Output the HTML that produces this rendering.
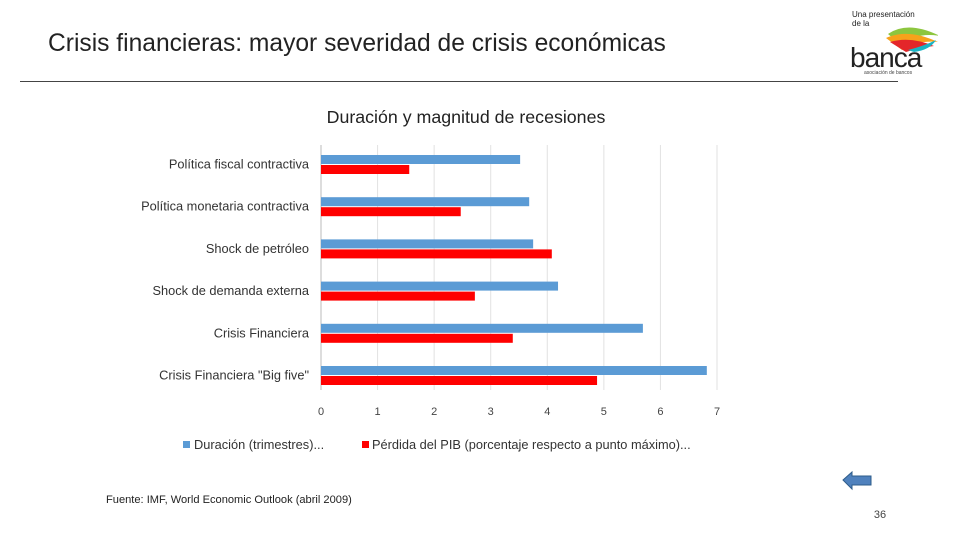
<!DOCTYPE html>
<html><head><meta charset="utf-8"><style>
body{margin:0;width:960px;height:540px;background:#fff;position:relative;overflow:hidden;font-family:"Liberation Sans",sans-serif}
.t{position:absolute;white-space:nowrap}
</style></head><body>
<div class="t" style="left:48px;top:30px;font-size:24.6px;color:#222">Crisis financieras: mayor severidad de crisis económicas</div>
<div style="position:absolute;left:20px;top:81px;width:878px;height:1px;background:#444"></div>
<div style="position:absolute;left:848px;top:6px;width:90px;height:72px">
 <div class="t" style="left:4px;top:4px;font-size:8px;line-height:9px;color:#222">Una presentación<br>de la</div>
 <svg width="90" height="72" style="position:absolute;left:0;top:0">
  <path d="M40 28 Q60 14 92 30 Q70 26 52 38 Z" fill="#8dc63f"/>
  <path d="M38 32 Q60 22 90 36 Q70 34 54 44 Z" fill="#f7a21b"/>
  <path d="M42 36 Q62 30 86 40 Q70 42 58 46 Z" fill="#e4262a"/>
  <path d="M60 44 Q76 40 88 34 Q82 44 66 46 Z" fill="#1ab3c4"/>
 </svg>
 <div class="t" style="left:2px;top:36px;font-size:28px;color:#222;letter-spacing:-1px">banca</div>
 <div class="t" style="left:16px;top:64px;font-size:5px;color:#444">asociación de bancos</div>
</div>
<svg id="chart" width="960" height="540" style="position:absolute;left:0;top:0">
<text x="466" y="123" text-anchor="middle" font-size="17.8" fill="#222">Duración y magnitud de recesiones</text>
<g id="grid"></g><g id="bars"></g><g id="labels"></g><g id="ticks"></g>
<g>
 <rect x="183" y="441" width="7" height="7" fill="#5b9bd5"/>
 <text x="194" y="449" font-size="12.8" fill="#333">Duración (trimestres)...</text>
 <rect x="362" y="441" width="7" height="7" fill="#ff0000"/>
 <text x="372" y="449" font-size="12.8" fill="#333">Pérdida del PIB (porcentaje respecto a punto máximo)...</text>
</g>
<text x="106" y="503" font-size="11.1" fill="#222">Fuente: IMF, World Economic Outlook (abril 2009)</text>
<g><path d="M843 480 L852 472 L852 476 L871 476 L871 485 L852 485 L852 489 Z" fill="#4f81bd" stroke="#2e5c8a"/></g>
<text x="880" y="518" text-anchor="middle" font-size="11" fill="#444">36</text>
</svg>
<script>
const categories=["Política fiscal contractiva","Política monetaria contractiva","Shock de petróleo","Shock de demanda externa","Crisis Financiera","Crisis Financiera \"Big five\""];
const duration=[3.52,3.68,3.75,4.19,5.69,6.82];
const gdpLoss=[1.56,2.47,4.08,2.72,3.39,4.88];
const ticks=[0,1,2,3,4,5,6,7];
const NS="http://www.w3.org/2000/svg";
const x=v=>321+v*(396/7);
const yc=i=>164.5+i*42.2;
function mk(t,a,p){const e=document.createElementNS(NS,t);for(const k in a)e.setAttribute(k,a[k]);document.getElementById(p).appendChild(e);return e;}
ticks.forEach(t=>{
 const g=mk('line',{x1:x(t),x2:x(t),y1:145,y2:390,stroke:t===0?'#bbb':'#e2e2e2','stroke-width':1},'grid');
 
 
 const l=mk('text',{x:x(t),y:415,'text-anchor':'middle','font-size':11,fill:'#444'},'ticks');
 l.textContent=t;
 
 
});
categories.forEach((c,i)=>{
 const b=mk('rect',{x:x(0),y:yc(i)-9.5,width:x(duration[i])-x(0),height:9,fill:'#5b9bd5'},'bars');
 
 
 const r=mk('rect',{x:x(0),y:yc(i)+0.5,width:x(gdpLoss[i])-x(0),height:9,fill:'#ff0000'},'bars');
 
 
 const l=mk('text',{x:309,y:yc(i)+4,'text-anchor':'end','font-size':12.8,fill:'#333'},'labels');
 l.textContent=c;
 
 
});
</script>
</body></html>
